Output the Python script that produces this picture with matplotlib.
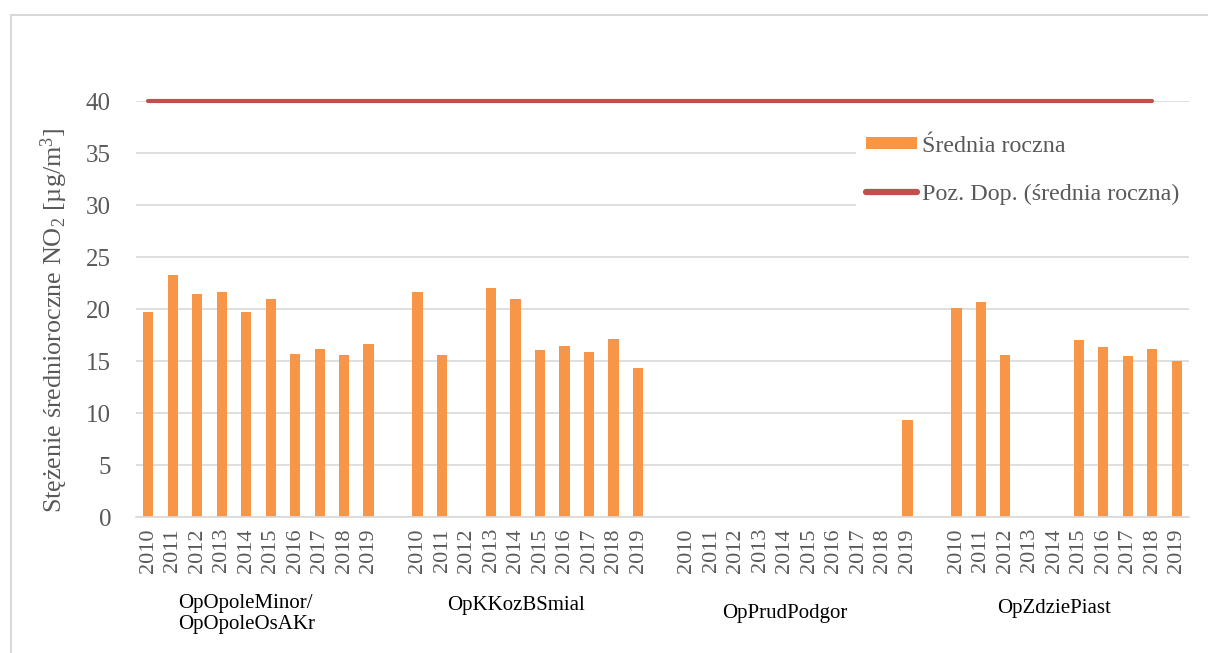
import matplotlib
matplotlib.use("Agg")
import matplotlib.pyplot as plt
import matplotlib.transforms as mtransforms
from matplotlib.lines import Line2D
from matplotlib.patches import Patch
import numpy as np

plt.rcParams['font.family'] = ['Liberation Serif', 'DejaVu Serif']
plt.rcParams['mathtext.fontset'] = 'custom'
plt.rcParams['mathtext.rm'] = 'Liberation Serif'
plt.rcParams['mathtext.it'] = 'Liberation Serif:italic'

# dane
stacje = ["OpOpoleMinor/\nOpOpoleOsAKr", "OpKKozBSmial", "OpPrudPodgor", "OpZdziePiast"]
lata = ["2010", "2011", "2012", "2013", "2014", "2015", "2016", "2017", "2018", "2019"]

opole = [19.7, 23.3, 21.4, 21.6, 19.7, 21.0, 15.7, 16.2, 15.6, 16.6]
kkoz = [21.6, 15.6, None, 22.0, 21.0, 16.1, 16.4, 15.9, 17.1, 14.3]
prud = [None, None, None, None, None, None, None, None, None, 9.3]
zdzie = [20.1, 20.7, 15.6, None, None, 17.0, 16.3, 15.5, 16.2, 15.0]

norma = 40

serie = [opole, kkoz, prud, zdzie]

ORANGE = '#f79646'
RED = '#c0504d'
GRID = '#d9d9d9'
TXT = '#595959'

fig = plt.figure(figsize=(12.08, 6.53), dpi=100)
ax = fig.add_axes([136/1208, 1 - 517/653, 1053/1208, 416/653])

n_lat = len(lata)
krok = n_lat + 1
pozycje = []
etykiety = []
for g, wartosci in enumerate(serie):
    for i, v in enumerate(wartosci):
        x = g * krok + i
        pozycje.append(x)
        etykiety.append(lata[i])
        if v is not None:
            ax.bar(x, v, width=0.42, color=ORANGE, zorder=2)

# linia poziomu dopuszczalnego
x_linii = np.arange(0, len(serie) * krok - 2)
ax.plot(x_linii, [norma] * len(x_linii), color=RED, lw=3,
        solid_capstyle='round', zorder=3, clip_on=False)

ax.set_xlim(-0.5, len(serie) * krok - 1.5)
ax.set_ylim(0, 40)
ax.set_yticks(np.arange(0, 41, 5))
ax.set_xticks(pozycje)
ax.set_xticklabels(etykiety, rotation=90, fontsize=16, color=TXT)
ax.tick_params(axis='x', length=0, pad=8)
ax.tick_params(axis='y', length=0, pad=18, labelsize=18, labelcolor=TXT)

ax.grid(axis='y', color=GRID, lw=1.2, zorder=0)
for s in ['top', 'right', 'left']:
    ax.spines[s].set_visible(False)
ax.spines['bottom'].set_color(GRID)
ax.spines['bottom'].set_linewidth(1.2)

ax.set_ylabel('Stężenie średnioroczne NO$_2$ [µg/m$^3$]', fontsize=18.8, color=TXT)
ax.yaxis.set_label_coords(-0.063, 0.474)

# nazwy stacji pod latami
trans = mtransforms.blended_transform_factory(ax.transData, ax.transAxes)
label_y = [-0.233, -0.212, -0.231, -0.221]
for g, nazwa in enumerate(stacje):
    ax.text(g * krok + 4, label_y[g], nazwa, transform=trans, ha='center', va='center',
            fontsize=15, color='black', linespacing=1.15, multialignment='left')

uchwyty = [Patch(facecolor=ORANGE, edgecolor='none'),
           Line2D([0], [0], color=RED, lw=4.5, solid_capstyle='round')]
leg = ax.legend(uchwyty, ["Średnia roczna", "Poz. Dop. (średnia roczna)"],
                loc='upper right', bbox_to_anchor=(1.0, 0.94), fontsize=17.3,
                frameon=True, facecolor='white', edgecolor='none', framealpha=1,
                handlelength=2.15, handleheight=0.4, handletextpad=0.2,
                labelspacing=1.12, borderpad=0.4, borderaxespad=0.0)
for t in leg.get_texts():
    t.set_color(TXT)
leg.set_zorder(5)

# ramka wykresu
fig.add_artist(Line2D([10.5/1208, 10.5/1208], [0, 1 - 14.5/653], color=GRID, lw=1.5))
fig.add_artist(Line2D([10.5/1208, 1], [1 - 14.5/653, 1 - 14.5/653], color=GRID, lw=1.5))

fig.savefig('out.png', dpi=100)
